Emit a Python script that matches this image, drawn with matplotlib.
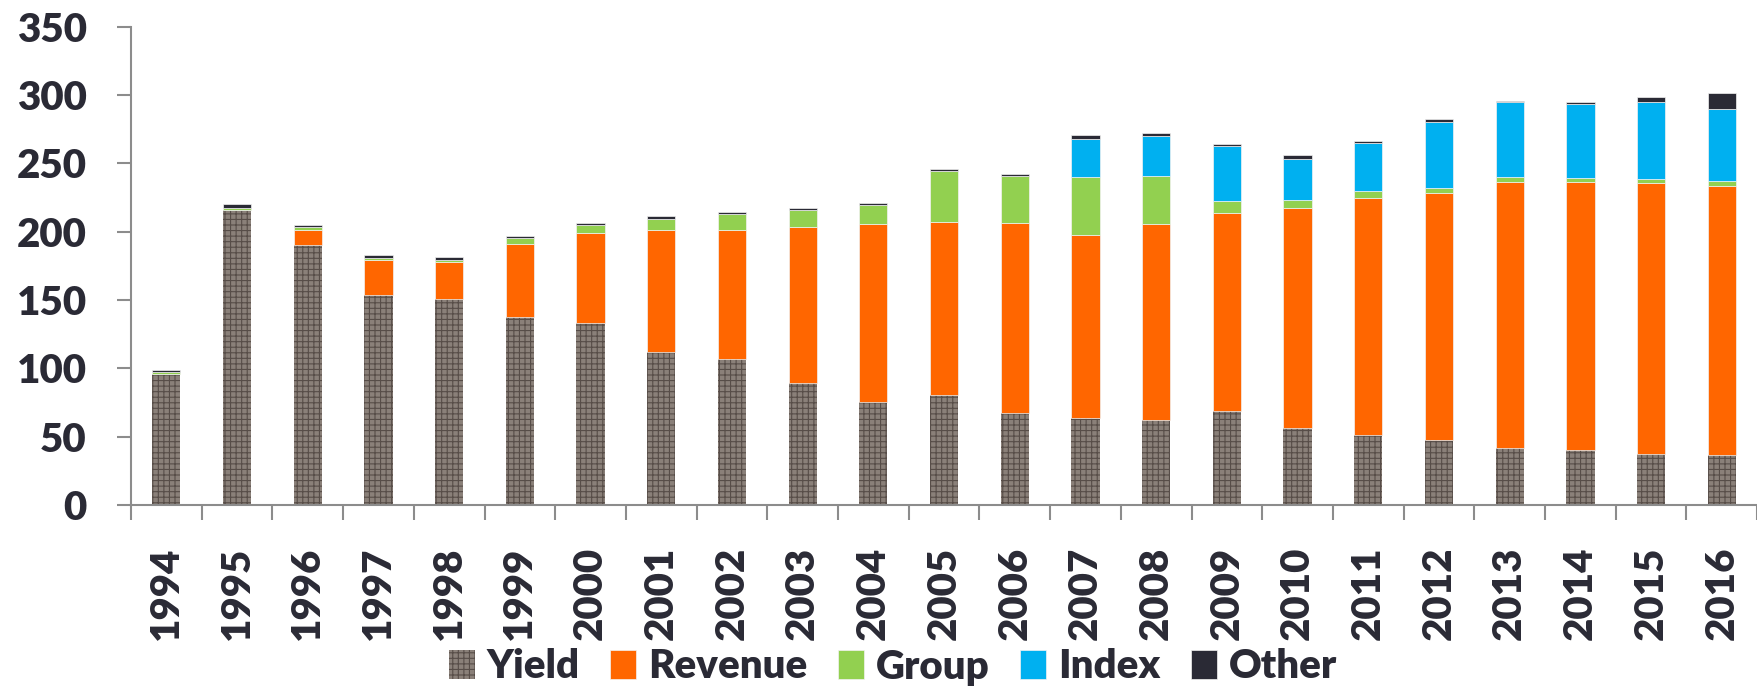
import numpy as np
import matplotlib.pyplot as plt
from matplotlib.ticker import FixedLocator

# values
years = [str(y) for y in range(1994, 2017)]
yield_vals = [95.5, 216, 190, 153.5, 151, 137.5, 133, 112, 107, 89.5, 75.5, 80.5,
              67, 64, 62, 68.5, 56, 51, 47.5, 42, 40, 37.5, 36.5]
revenue = [0, 0, 11.5, 26, 27, 53.5, 66, 89.5, 94.5, 113.5, 130, 126.5,
           139.5, 133.5, 143.5, 145, 161, 173.5, 180.5, 194, 196.5, 198, 197]
group = [1.5, 1.5, 2, 1.5, 1.5, 4.5, 5.5, 8, 11, 12.5, 14, 37.5,
         34, 42.5, 35.5, 8.5, 6, 5.5, 4, 4, 3, 3, 3.5]
index = [0, 0, 0, 0, 0, 0, 0, 0, 0, 0, 0, 0,
         0, 28, 29, 40.5, 30, 34.5, 48, 54.5, 53.5, 56, 52.5]
other = [2, 3, 1.5, 1.5, 2, 1.2, 1.5, 1.7, 1.7, 1.8, 1.4, 1.2,
         1.5, 3, 2, 1.7, 2.7, 1.5, 2, 1, 1.5, 4, 11.5]

txt = '#2a2a35'
plt.rcParams['font.family'] = ['Lato', 'DejaVu Sans']
plt.rcParams['font.weight'] = 'heavy'
plt.rcParams['hatch.linewidth'] = 0.8

fig = plt.figure(figsize=(17.58, 6.92), dpi=100)
ax = fig.add_axes([131/1758, 1-505/692, 1-131/1758-0.0005, (505-26.5)/692])

x = np.arange(len(years))
w = 0.4
bottom = np.zeros(len(years))

#Stacked bars
ax.bar(x, yield_vals, w, bottom=bottom, color='#8a8079', edgecolor='#574d48',
       hatch='+++', linewidth=0, label='Yield')
bottom += yield_vals
series = [(revenue, '#ff6600', 'Revenue'), (group, '#92d050', 'Group'),
          (index, '#00b0f0', 'Index'), (other, '#2a2a35', 'Other')]
for vals, col, name in series:
    ax.bar(x, vals, w, bottom=bottom, color=col, edgecolor='#f2f2f2',
           linewidth=0.5, label=name)
    bottom += vals

#Cosmetics
ax.set_xlim(-0.5, len(years)-0.5)
ax.set_ylim(0, 350)
ax.set_yticks(np.arange(0, 351, 50))
for s in ['top', 'right']:
    ax.spines[s].set_visible(False)
for s in ['left', 'bottom']:
    ax.spines[s].set_color('#8c8c8c')
    ax.spines[s].set_linewidth(1.5)

ax.set_xticks(x)
ax.set_xticklabels(years, rotation=90)
ax.xaxis.set_minor_locator(FixedLocator(np.arange(-0.5, len(years), 1)))
ax.tick_params(axis='x', which='major', length=0, pad=30, labelsize=29, labelcolor=txt)
ax.tick_params(axis='x', which='minor', length=11, width=1.5, color='#8c8c8c')
ax.tick_params(axis='y', length=10, width=1.5, color='#8c8c8c', pad=22,
               labelsize=29, labelcolor=txt)

leg = fig.legend(loc='center', bbox_to_anchor=(0.508, 1-667/692), ncol=5, frameon=False,
                 fontsize=29, handlelength=0.65, handleheight=0.7, handletextpad=0.3,
                 columnspacing=0.75)
for t in leg.get_texts():
    t.set_color(txt)

plt.savefig('out.png', dpi=100)
